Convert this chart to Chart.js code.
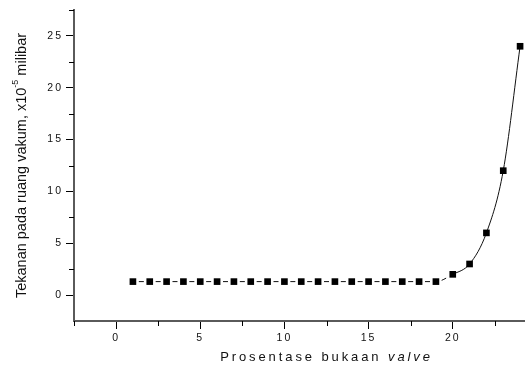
<!DOCTYPE html>
<html>
<head>
<meta charset="utf-8">
<script src="https://cdn.jsdelivr.net/npm/chart.js@4/dist/chart.umd.min.js"></script>
<style>
  html, body { margin: 0; padding: 0; background: #fff; overflow: hidden; width: 525px; height: 370px; }
  #wrap { position: absolute; left: 0; top: 0; width: 590px; height: 370px; }
</style>
</head>
<body>
<div id="wrap"><canvas id="c" width="590" height="370"></canvas></div>
<script>
// ---- data ----
const valveOpening = [1, 2, 3, 4, 5, 6, 7, 8, 9, 10, 11, 12, 13, 14, 15, 16, 17, 18, 19, 20, 21, 22, 23, 24];
const pressure = [1.3, 1.3, 1.3, 1.3, 1.3, 1.3, 1.3, 1.3, 1.3, 1.3, 1.3, 1.3, 1.3, 1.3, 1.3, 1.3, 1.3, 1.3, 1.3, 2, 3, 6, 12, 24];
const xTickLabels = [0, 5, 10, 15, 20, 25];
const yTickLabels = [0, 5, 10, 15, 20, 25];
const xTitleMain = 'Prosentase bukaan ';
const xTitleItalic = 'valve';
const yTitleMain = 'Tekanan pada ruang vakum, x10';
const yTitleSup = '-5';
const yTitleEnd = ' milibar';

const points = valveOpening.map((x, i) => ({ x: x, y: pressure[i] }));
const FONT = "'Liberation Sans', Arial, sans-serif";

const minorTicks = {
  id: 'minorTicks',
  afterDraw(chart) {
    const ctx = chart.ctx;
    const xs = chart.scales.x, ys = chart.scales.y;
    const a = chart.chartArea;
    ctx.save();
    ctx.strokeStyle = '#000';
    ctx.lineWidth = 1;
    for (let v = -2.5; v <= 27.5; v += 5) {
      const px = Math.round(xs.getPixelForValue(v)) + 0.5;
      if (px >= a.left && px <= a.right) {
        ctx.beginPath(); ctx.moveTo(px, a.bottom); ctx.lineTo(px, a.bottom + 5); ctx.stroke();
      }
      const py = Math.round(ys.getPixelForValue(v)) + 0.5;
      if (py >= a.top && py <= a.bottom) {
        ctx.beginPath(); ctx.moveTo(a.left, py); ctx.lineTo(a.left - 5, py); ctx.stroke();
      }
    }
    ctx.restore();
  }
};

const axisTitles = {
  id: 'axisTitles',
  afterDraw(chart) {
    const ctx = chart.ctx;
    const a = chart.chartArea;
    ctx.save();
    ctx.fillStyle = '#111';
    ctx.textBaseline = 'middle';
    ctx.textAlign = 'left';
    // x title
    ctx.letterSpacing = '2.9px';
    ctx.font = '13px ' + FONT;
    const w1 = ctx.measureText(xTitleMain).width;
    ctx.font = 'italic 13px ' + FONT;
    const w2 = ctx.measureText(xTitleItalic).width;
    let sx = (a.left + a.right) / 2 - (w1 + w2) / 2;
    const ty = a.bottom + 36;
    ctx.font = '13px ' + FONT;
    ctx.fillText(xTitleMain, sx, ty);
    ctx.font = 'italic 13px ' + FONT;
    ctx.fillText(xTitleItalic, sx + w1, ty);
    // y title
    ctx.letterSpacing = '0px';
    ctx.translate(22, (a.top + a.bottom) / 2);
    ctx.rotate(-Math.PI / 2);
    ctx.font = '14.5px ' + FONT;
    const m1 = ctx.measureText(yTitleMain).width;
    const m3 = ctx.measureText(yTitleEnd).width;
    ctx.font = '9px ' + FONT;
    const m2 = ctx.measureText(yTitleSup).width;
    let yx = -(m1 + m2 + m3) / 2;
    ctx.font = '14.5px ' + FONT;
    ctx.fillText(yTitleMain, yx, 0);
    ctx.font = '9px ' + FONT;
    ctx.fillText(yTitleSup, yx + m1, -6);
    ctx.font = '14.5px ' + FONT;
    ctx.fillText(yTitleEnd, yx + m1 + m2, 0);
    ctx.restore();
  }
};

const spacing = {
  id: 'spacing',
  beforeDraw(chart) { chart.ctx.letterSpacing = '2px'; }
};

new Chart(document.getElementById('c'), {
  type: 'scatter',
  data: {
    datasets: [{
      data: points,
      showLine: true,
      borderColor: '#111',
      borderWidth: 1,
      backgroundColor: '#000',
      pointStyle: 'rect',
      pointRadius: 4.7,
      pointHoverRadius: 4.7,
      pointBorderWidth: 0,
      cubicInterpolationMode: 'monotone',
      segment: {
        borderDash: ctx => {
          if (ctx.p1DataIndex <= 19) {
            const L = ctx.p1.x - ctx.p0.x;
            return [5, L - 5];
          }
          return [];
        },
        borderDashOffset: ctx => {
          if (ctx.p1DataIndex <= 19) {
            const L = ctx.p1.x - ctx.p0.x;
            return -(L - 5) / 2;
          }
          return 0;
        }
      }
    }]
  },
  options: {
    responsive: false,
    animation: false,
    devicePixelRatio: 1,
    layout: { padding: { top: 10, right: 11, left: 0, bottom: 0 } },
    plugins: { legend: { display: false }, tooltip: { enabled: false } },
    scales: {
      x: {
        type: 'linear',
        min: -2.5,
        max: 27.5,
        afterFit: s => { s.height = 49; },
        afterBuildTicks: s => { s.ticks = xTickLabels.map(v => ({ value: v })); },
        border: { display: true, color: '#5a5a5a', width: 2 },
        grid: { drawOnChartArea: false, drawTicks: true, tickLength: 8, tickColor: '#000', tickWidth: 1 },
        ticks: { font: { family: FONT, size: 10.5 }, color: '#111', padding: 3, maxRotation: 0, autoSkip: false }
      },
      y: {
        type: 'linear',
        min: -2.5,
        max: 27.5,
        afterFit: s => { s.width = 74; },
        afterBuildTicks: s => { s.ticks = yTickLabels.map(v => ({ value: v })); },
        border: { display: true, color: '#5a5a5a', width: 2 },
        grid: { drawOnChartArea: false, drawTicks: true, tickLength: 8, tickColor: '#000', tickWidth: 1 },
        ticks: { font: { family: FONT, size: 10.5 }, color: '#111', padding: 3, autoSkip: false }
      }
    }
  },
  plugins: [spacing, minorTicks, axisTitles]
});
</script>
</body>
</html>
